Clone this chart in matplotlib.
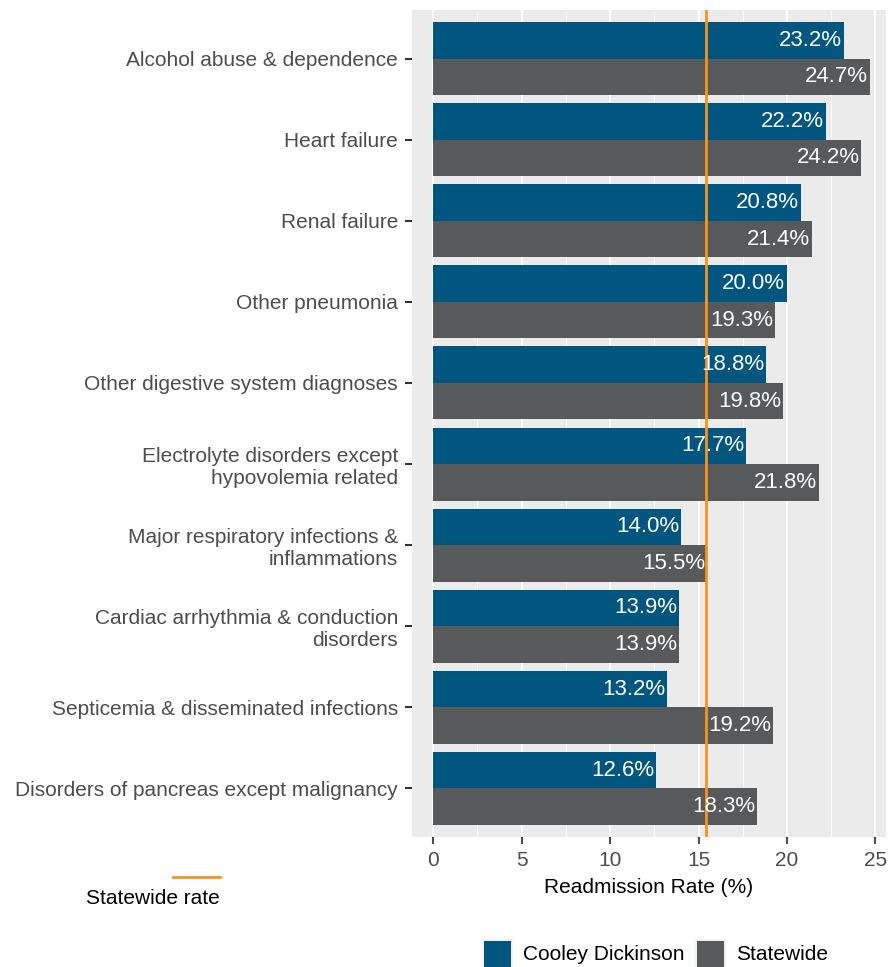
import numpy as np
import matplotlib.pyplot as plt
from matplotlib.patches import Rectangle
from matplotlib.lines import Line2D

plt.rcParams['font.family'] = ['Liberation Sans', 'DejaVu Sans']

categories = [
    "Alcohol abuse & dependence",
    "Heart failure",
    "Renal failure",
    "Other pneumonia",
    "Other digestive system diagnoses",
    "Electrolyte disorders except\nhypovolemia related",
    "Major respiratory infections &\ninflammations",
    "Cardiac arrhythmia & conduction\ndisorders",
    "Septicemia & disseminated infections",
    "Disorders of pancreas except malignancy",
]
cooley = [23.2, 22.2, 20.8, 20.0, 18.8, 17.7, 14.0, 13.9, 13.2, 12.6]
statewide = [24.7, 24.2, 21.4, 19.3, 19.8, 21.8, 15.5, 13.9, 19.2, 18.3]
statewide_rate = 15.4

BLUE = '#00567F'
GREY = '#58595B'
ORANGE = '#F7941D'
W, H = 888, 967

fig = plt.figure(figsize=(W / 100, H / 100), dpi=100)
ax = fig.add_axes([412 / W, 1 - 837 / H, 474 / W, 827 / H])
ax.set_facecolor('#EBEBEB')

n = len(categories)
y = np.arange(n)
h = 0.45
ax.barh(y - h / 2, cooley, height=h, color=BLUE, zorder=2)
ax.barh(y + h / 2, statewide, height=h, color=GREY, zorder=2)

for yi, v in zip(y, cooley):
    ax.text(v - 0.1, yi - h / 2, f'{v:.1f}%', ha='right', va='center',
            color='white', fontsize=16, zorder=4)
for yi, v in zip(y, statewide):
    ax.text(v - 0.1, yi + h / 2, f'{v:.1f}%', ha='right', va='center',
            color='white', fontsize=16, zorder=4)

ax.axvline(statewide_rate, color=ORANGE, linewidth=2, zorder=3)

ax.set_xlim(-1.2, 25.6)
ax.set_ylim(n - 0.4, -0.6)
ax.set_xticks([0, 5, 10, 15, 20, 25])
ax.set_xticks([2.5, 7.5, 12.5, 17.5, 22.5], minor=True)
ax.set_yticks(y)
ax.set_yticklabels(categories, fontsize=15, color='#4D4D4D')
ax.tick_params(axis='x', labelsize=15, colors='#4D4D4D', length=5, width=1.5, pad=5)
ax.tick_params(axis='y', length=5, width=1.5, color='#333333', pad=5)
ax.tick_params(axis='x', which='minor', length=0)
ax.grid(axis='x', which='major', color='white', linewidth=1.3, zorder=0)
ax.grid(axis='x', which='minor', color='white', linewidth=0.6, zorder=0)
ax.set_axisbelow(True)
for s in ax.spines.values():
    s.set_visible(False)
ax.set_xlabel('Readmission Rate (%)', fontsize=15, color='black', labelpad=6)

# statewide rate key (line above the text)
fig.add_artist(Line2D([173 / W, 220 / W], [1 - 877 / H, 1 - 877 / H],
                      color=ORANGE, linewidth=2))
fig.text(220 / W, 1 - 898 / H, 'Statewide rate', ha='right', va='center',
         fontsize=15, color='black')

# fill legend at the bottom
keys = [(484, BLUE, 'Cooley Dickinson'), (697, GREY, 'Statewide')]
for x0, col, lab in keys:
    fig.add_artist(Rectangle((x0 / W - 2 / W, 1 - 969 / H), 31 / W, 30 / H,
                             facecolor='#F2F2F2', edgecolor='none'))
    fig.add_artist(Rectangle((x0 / W, 1 - 969 / H), 27 / W, 28 / H,
                             facecolor=col, edgecolor='none'))
    fig.text((x0 + 39) / W, 1 - 955 / H, lab, ha='left', va='center',
             fontsize=15, color='black')

fig.savefig('out.png', dpi=100)
